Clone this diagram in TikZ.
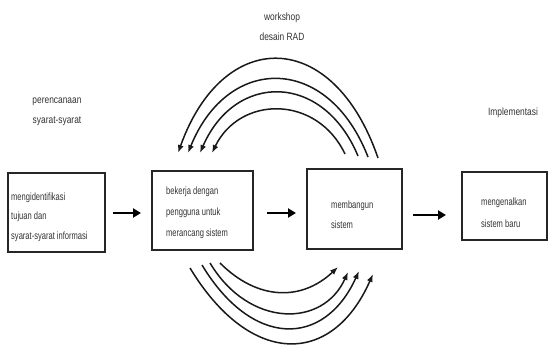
\documentclass[tikz,border=0pt]{standalone}
\usepackage{fontspec}
\setmainfont{Liberation Sans}[FakeStretch=0.8]
\newfontfamily\narrowfont{Liberation Sans}[FakeStretch=0.72]
\usetikzlibrary{arrows.meta}
\begin{document}
\begin{tikzpicture}[x=1pt,y=-1pt,
  boxst/.style={draw=black!85,line width=1.8pt},
  txt/.style={font=\narrowfont\fontsize{10.5}{20}\selectfont,text=black!80,align=left,anchor=west,inner sep=0pt},
  lbl/.style={font=\fontsize{10.5}{20}\selectfont,text=black!80,align=center,inner sep=0pt},
  flow/.style={line width=2pt,-{Triangle[length=8pt,width=9pt]}},
  arc/.style={line width=1.5pt,black!90,-{Latex[length=8pt,width=6pt]}}]
\useasboundingbox (0,0) rectangle (549,350);
% boxes
\draw[boxst] (8,173) rectangle (105,252);
\draw[boxst] (152,171) rectangle (253,250);
\draw[boxst] (307,169) rectangle (402,249);
\draw[boxst] (462,172) rectangle (547,240);
% texts
\node[txt,font=\narrowfont\fontsize{10.5}{19.5}\selectfont] (t1) at (11,217) {mengidentifikasi\\tujuan dan\\syarat-syarat informasi};
\node[txt,font=\narrowfont\fontsize{10.5}{21}\selectfont] (t2) at (166,213) {bekerja dengan\\pengguna untuk\\merancang sistem};
\node[txt] (t3) at (331,215) {membangun\\sistem};
\node[txt,font=\narrowfont\fontsize{10.5}{22}\selectfont] (t4) at (481,213) {mengenalkan\\sistem baru};
\node[lbl] (l1) at (57,112) {perencanaan\\syarat-syarat};
\node[lbl] (l2) at (282,27) {workshop\\desain RAD};
\node[lbl] (l3) at (513,113) {Implementasi};
% straight arrows
\draw[flow] (113,213) -- (141,213);
\draw[flow] (267,213) -- (296,213);
\draw[flow] (413,215) -- (446,215);
% top arcs
\coordinate (a1s) at (378,158); \coordinate (a1e) at (178,153);
\coordinate (a2s) at (368,157); \coordinate (a2e) at (188,153);
\coordinate (a3s) at (358,156); \coordinate (a3e) at (200,153);
\coordinate (a4s) at (345,154); \coordinate (a4e) at (212,153);
\draw[arc] (a1s) .. controls (333,27) and (223,27) .. (a1e);
\draw[arc] (a2s) .. controls (328,54) and (228,54) .. (a2e);
\draw[arc] (a3s) .. controls (323,72) and (235,72) .. (a3e);
\draw[arc] (a4s) .. controls (317,95) and (240,95) .. (a4e);
% bottom arcs
\coordinate (c1s) at (220,263); \coordinate (c1e) at (338,267);
\coordinate (c2s) at (210,263); \coordinate (c2e) at (348,272);
\coordinate (c3s) at (202,265); \coordinate (c3e) at (359,271);
\coordinate (c4s) at (190,268); \coordinate (c4e) at (373,274);
\draw[arc] (c1s) .. controls (258,301) and (302,301) .. (c1e);
\draw[arc] (c2s) .. controls (249,328) and (323,328) .. (c2e);
\draw[arc] (c3s) .. controls (252,348) and (324,348) .. (c3e);
\draw[arc] (c4s) .. controls (250,367) and (332,367) .. (c4e);
\end{tikzpicture}
\end{document}
